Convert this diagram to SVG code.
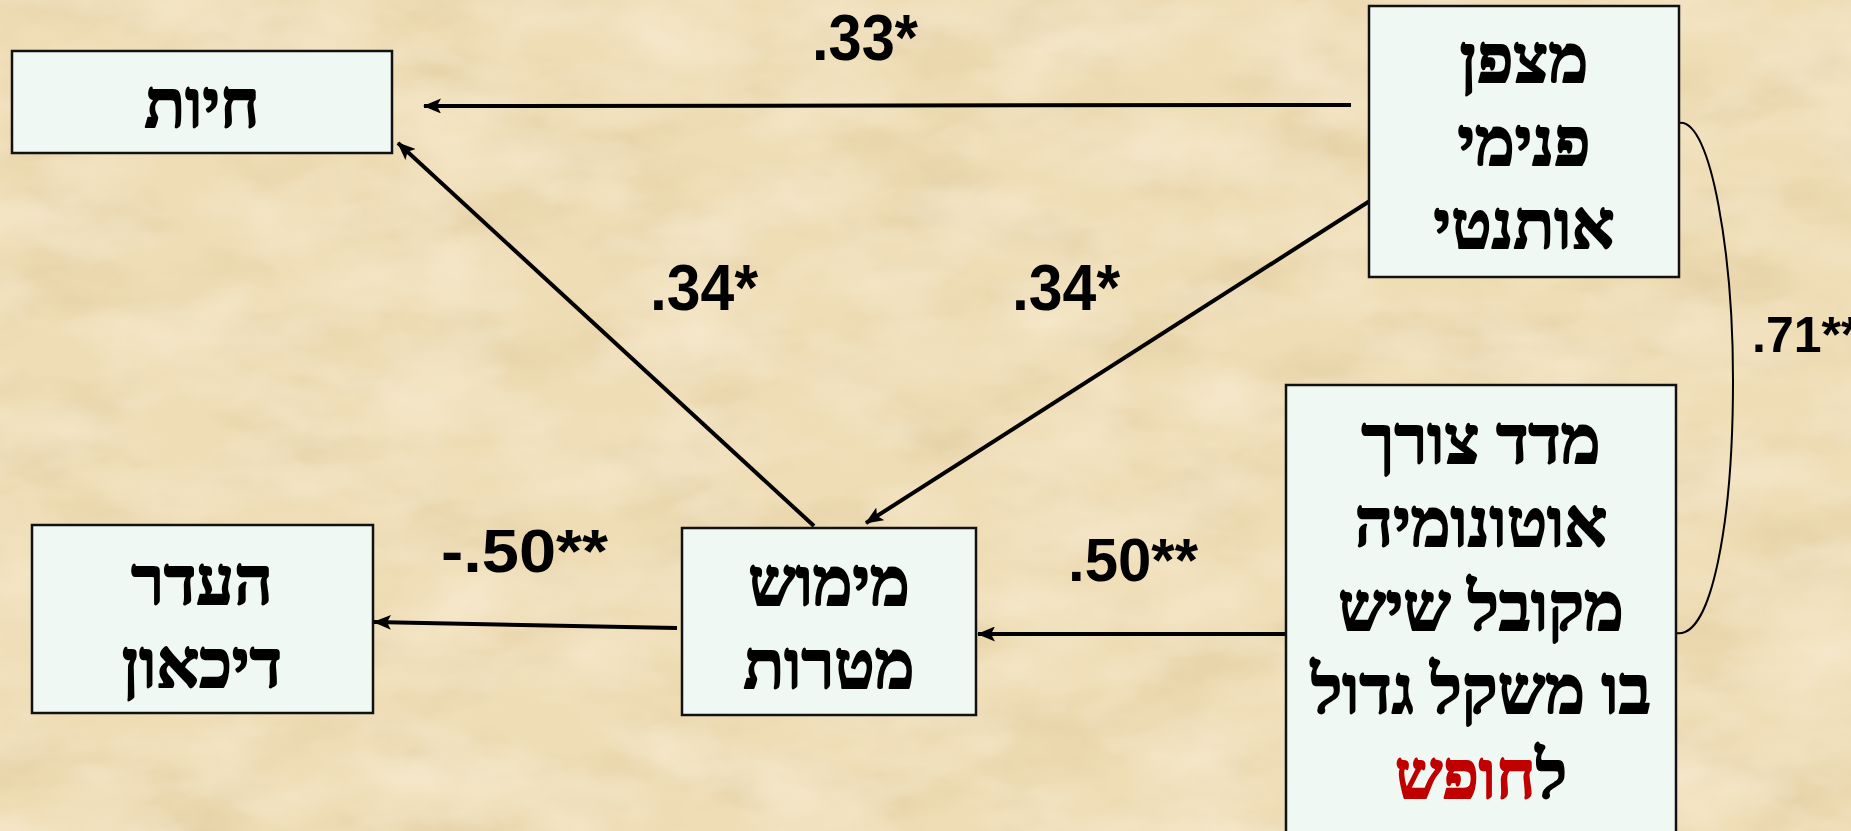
<svg xmlns="http://www.w3.org/2000/svg" width="1851" height="831" viewBox="0 0 1851 831">
  <style>
    .box { fill: #EFF8F3; stroke: #111; stroke-width: 2.5; }
    .heb { font-family: "Liberation Serif", "DejaVu Serif", serif; font-weight: bold; font-size: 67px; fill: #000; stroke: #000; stroke-width: 1.8; stroke-linejoin: round; text-anchor: middle; }
    .num { font-family: "Liberation Sans", Arial, sans-serif; font-weight: bold; fill: #000; }
    .arrow { stroke: #000; stroke-width: 4; fill: none; marker-end: url(#ah); }
    .corr { stroke: #000; stroke-width: 2; fill: none; }
    .red { fill: #C00000; stroke: #C00000; }
  </style>
  <defs>
    <marker id="ah" viewBox="0 0 18 15" refX="17" refY="7.5" markerWidth="18" markerHeight="15" markerUnits="userSpaceOnUse" orient="auto">
      <path d="M0,0 L18,7.5 L0,15 L4,7.5 z" fill="#000"/>
    </marker>
    <filter id="paper" x="0" y="0" width="100%" height="100%">
      <feTurbulence type="fractalNoise" baseFrequency="0.008 0.016" numOctaves="4" seed="7" result="n"/>
      <feColorMatrix in="n" type="matrix" values="0 0 0 0 0.62  0 0 0 0 0.46  0 0 0 0 0.22  1.6 0 0 0 -0.72" result="dark"/>
      <feColorMatrix in="n" type="matrix" values="0 0 0 0 1  0 0 0 0 0.97  0 0 0 0 0.88  0 1.6 0 0 -0.62" result="light"/>
      <feMerge><feMergeNode in="dark"/><feMergeNode in="light"/></feMerge>
    </filter>
  </defs>

  <g id="background">
    <rect x="0" y="0" width="1851" height="831" fill="#EFDDB6"/>
    <rect x="0" y="0" width="1851" height="831" filter="url(#paper)" opacity="0.4"/>
  </g>

  <g id="connectors">
    <path class="arrow" d="M1351,105 L424,106"/>
    <path class="arrow" d="M814,526 L398,143"/>
    <path class="arrow" d="M1376,197 L866,523"/>
    <path class="arrow" d="M1285,634 L978,634"/>
    <path class="arrow" d="M677,628 L374,622"/>
    <path class="corr" d="M1679,123 C1712,118 1733,260 1733,380 C1733,520 1712,640 1676,633"/>
  </g>

  <g id="labels">
    <text class="num" x="812" y="60" font-size="64" textLength="106" lengthAdjust="spacingAndGlyphs">.33*</text>
    <text class="num" x="650" y="310" font-size="64" textLength="108" lengthAdjust="spacingAndGlyphs">.34*</text>
    <text class="num" x="1012" y="310" font-size="64" textLength="108" lengthAdjust="spacingAndGlyphs">.34*</text>
    <text class="num" x="1068" y="581" font-size="62" textLength="130" lengthAdjust="spacingAndGlyphs">.50**</text>
    <text class="num" x="441" y="572" font-size="62" textLength="167" lengthAdjust="spacingAndGlyphs">-.50**</text>
    <text class="num" x="1752" y="352" font-size="50">.71**</text>
  </g>

  <g id="node-hayut">
    <rect class="box" x="12" y="51" width="380" height="102"/>
    <text class="heb" x="202" y="127">חיות</text>
  </g>

  <g id="node-matzpen">
    <rect class="box" x="1369" y="6" width="310" height="271"/>
    <text class="heb" x="1524" y="82">מצפן</text>
    <text class="heb" x="1524" y="165">פנימי</text>
    <text class="heb" x="1524" y="248">אותנטי</text>
  </g>

  <g id="node-madad">
    <rect class="box" x="1286" y="385" width="390" height="460"/>
    <text class="heb" x="1481" y="463">מדד צורך</text>
    <text class="heb" x="1481" y="546">אוטונומיה</text>
    <text class="heb" x="1481" y="630">מקובל שיש</text>
    <text class="heb" x="1481" y="713">בו משקל גדול</text>
    <text class="heb" x="1481" y="798">ל<tspan class="red">חופש</tspan></text>
  </g>

  <g id="node-heeder">
    <rect class="box" x="32" y="525" width="341" height="188"/>
    <text class="heb" x="202" y="604">העדר</text>
    <text class="heb" x="202" y="687">דיכאון</text>
  </g>

  <g id="node-mimush">
    <rect class="box" x="682" y="528" width="294" height="187"/>
    <text class="heb" x="829" y="605">מימוש</text>
    <text class="heb" x="829" y="688">מטרות</text>
  </g>
</svg>
